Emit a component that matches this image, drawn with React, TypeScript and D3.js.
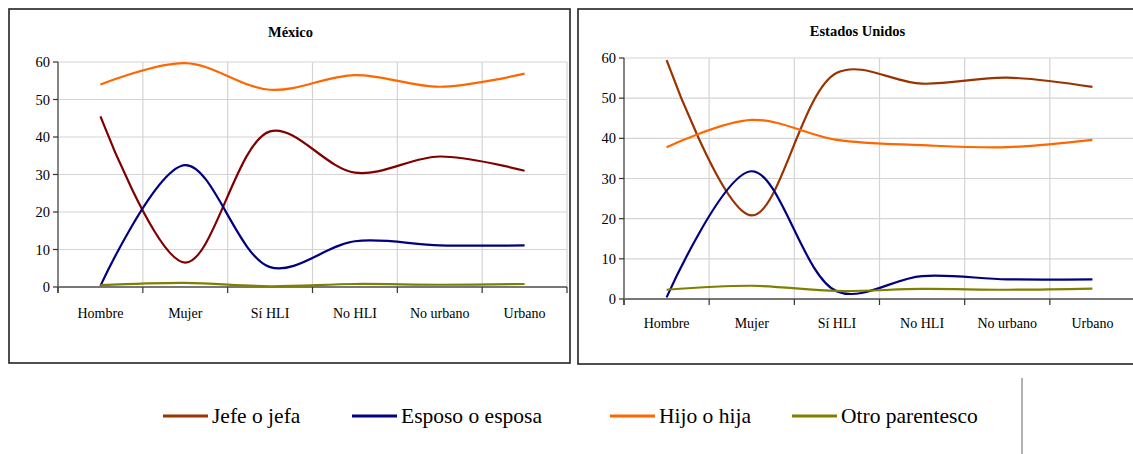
import * as d3 from 'd3'
import { useEffect, useRef } from 'react'

const categories = ['Hombre', 'Mujer', 'Sí HLI', 'No HLI', 'No urbano', 'Urbano']
const yTicks = [0, 10, 20, 30, 40, 50, 60]
const seriesNames = ['Jefe o jefa', 'Esposo o esposa', 'Hijo o hija', 'Otro parentesco']

// México
const mxJefe = [45.5, 6.5, 41.5, 30.5, 34.8, 31.0]
const mxEsposo = [0.3, 32.5, 5.3, 12.2, 11.1, 11.1]
const mxHijo = [54.0, 59.7, 52.6, 56.5, 53.4, 56.9]
const mxOtro = [0.5, 1.1, 0.2, 0.8, 0.6, 0.8]

// Estados Unidos
const usJefe = [59.5, 20.8, 56.3, 53.6, 55.1, 52.8]
const usEsposo = [0.4, 31.8, 1.9, 5.7, 4.9, 4.9]
const usHijo = [37.8, 44.6, 39.6, 38.3, 37.8, 39.6]
const usOtro = [2.3, 3.3, 2.0, 2.5, 2.3, 2.6]

const FONT = 'Liberation Serif, Times New Roman, serif'

const panels = [
  {
    title: 'México',
    box: [9, 9, 570, 363],
    x0: 58, x1: 567, yTop: 62, yBottom: 287,
    titleY: 37, labelY: 318,
    colors: ['#800000', '#000080', '#ff6600', '#808000'],
    series: [mxJefe, mxEsposo, mxHijo, mxOtro],
  },
  {
    title: 'Estados Unidos',
    box: [578, 9, 1142, 364],
    x0: 624, x1: 1135, yTop: 58, yBottom: 299,
    titleY: 36, labelY: 328,
    colors: ['#993300', '#000080', '#ff6600', '#808000'],
    series: [usJefe, usEsposo, usHijo, usOtro],
  },
]

const legendColors = ['#993300', '#000080', '#ff6600', '#808000']
const legendX = [163, 352, 610, 792]

export default function App() {
  const ref = useRef<SVGSVGElement>(null)

  useEffect(() => {
    if (!ref.current) return
    const svg = d3.select(ref.current)
    svg.selectAll('*').remove()

    panels.forEach(p => {
      const g = svg.append('g')
      const [bl, bt, br, bb] = p.box
      g.append('rect')
        .attr('x', bl).attr('y', bt)
        .attr('width', br - bl).attr('height', bb - bt)
        .attr('fill', '#fff').attr('stroke', '#222').attr('stroke-width', 1.6)

      const x = d3.scaleBand().domain(categories).range([p.x0, p.x1])
      const y = d3.scaleLinear().domain([0, 60]).range([p.yBottom, p.yTop])
      const bounds = categories.map(c => x(c) as number).concat([p.x1])

      // grid
      g.selectAll('line.hgrid').data(yTicks.slice(1)).enter()
        .append('line')
        .attr('x1', p.x0).attr('x2', p.x1)
        .attr('y1', d => y(d)).attr('y2', d => y(d))
        .attr('stroke', '#d4d4d4').attr('stroke-width', 1.2)
      g.selectAll('line.vgrid').data(bounds.slice(1)).enter()
        .append('line')
        .attr('x1', d => d).attr('x2', d => d)
        .attr('y1', p.yTop).attr('y2', p.yBottom)
        .attr('stroke', '#d4d4d4').attr('stroke-width', 1.2)

      // y axis
      g.append('line')
        .attr('x1', p.x0).attr('x2', p.x0)
        .attr('y1', p.yTop).attr('y2', p.yBottom + 6)
        .attr('stroke', '#333').attr('stroke-width', 1.2)
      g.selectAll('line.ytick').data(yTicks).enter()
        .append('line')
        .attr('x1', p.x0 - 5).attr('x2', p.x0)
        .attr('y1', d => y(d)).attr('y2', d => y(d))
        .attr('stroke', '#333').attr('stroke-width', 1.2)
      g.selectAll('text.ylab').data(yTicks).enter()
        .append('text')
        .attr('x', p.x0 - 8).attr('y', d => y(d))
        .attr('dy', '0.35em')
        .attr('text-anchor', 'end')
        .attr('font-family', FONT).attr('font-size', 14.5)
        .text(d => d)

      // x axis
      g.append('line')
        .attr('x1', p.x0).attr('x2', p.x1)
        .attr('y1', p.yBottom).attr('y2', p.yBottom)
        .attr('stroke', '#777').attr('stroke-width', 2)
      g.selectAll('line.xtick').data(bounds).enter()
        .append('line')
        .attr('x1', d => d).attr('x2', d => d)
        .attr('y1', p.yBottom).attr('y2', p.yBottom + 6)
        .attr('stroke', '#333').attr('stroke-width', 1.2)
      g.selectAll('text.xlab').data(categories).enter()
        .append('text')
        .attr('x', d => (x(d) as number) + x.bandwidth() / 2)
        .attr('y', p.labelY)
        .attr('text-anchor', 'middle')
        .attr('font-family', FONT).attr('font-size', 14)
        .text(d => d)

      g.append('text')
        .attr('x', (p.x0 + p.x1) / 2 - 22)
        .attr('y', p.titleY)
        .attr('text-anchor', 'middle')
        .attr('font-family', FONT).attr('font-size', 14.5)
        .attr('font-weight', 'bold')
        .text(p.title)

      // Excel-style smoothed lines
      const line = d3.line<number>()
        .x((_d, i) => (x(categories[i]) as number) + x.bandwidth() / 2)
        .y(d => y(d))
        .curve(d3.curveCatmullRom.alpha(0.5))

      p.series.forEach((s, i) => {
        g.append('path')
          .attr('d', line(s) as string)
          .attr('fill', 'none')
          .attr('stroke', p.colors[i])
          .attr('stroke-width', 2.2)
      })
    })

    // legend
    const lg = svg.append('g')
    seriesNames.forEach((name, i) => {
      lg.append('line')
        .attr('x1', legendX[i]).attr('x2', legendX[i] + 45)
        .attr('y1', 416).attr('y2', 416)
        .attr('stroke', legendColors[i]).attr('stroke-width', 3)
      lg.append('text')
        .attr('x', legendX[i] + 49).attr('y', 423)
        .attr('font-family', FONT).attr('font-size', 21.5)
        .text(name)
    })
    lg.append('line')
      .attr('x1', 1022).attr('x2', 1022)
      .attr('y1', 378).attr('y2', 454)
      .attr('stroke', '#666').attr('stroke-width', 1)

    return () => {
      svg.selectAll('*').remove()
    }
  }, [])

  return (
    <svg
      ref={ref}
      width={1133}
      height={454}
      style={{ position: 'absolute', left: 0, top: 0, background: '#fff' }}
    />
  )
}
